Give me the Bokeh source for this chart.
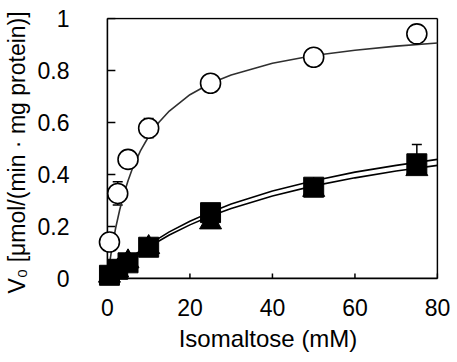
from bokeh.plotting import figure
from bokeh.models import Range1d, FixedTicker, Whisker, TeeHead, ColumnDataSource
from bokeh.embed import file_html
from bokeh.resources import INLINE

# ---- data ----
conc = [0.5, 2.5, 5, 10, 25, 50, 75]
v_circle = [0.14, 0.327, 0.458, 0.578, 0.751, 0.851, 0.941]
e_circle = [0.01, 0.045, 0.02, 0.037, 0.01, 0.01, 0.01]
v_square = [0.012, 0.035, 0.06, 0.12, 0.253, 0.351, 0.441]
e_square = [0.005, 0.01, 0.01, 0.01, 0.01, 0.01, 0.074]
v_tri = [0.01, 0.03, 0.065, 0.12, 0.215, 0.34, 0.42]
e_tri = [0.005, 0.005, 0.005, 0.01, 0.01, 0.01, 0.01]

fit_x1 = [0, 1, 2, 3, 4, 5, 6, 8, 10, 12.5, 15, 20, 25, 30, 40, 50, 60, 70, 80]
fit_circle = [0, 0.108, 0.194, 0.265, 0.325, 0.376, 0.420, 0.491, 0.546, 0.601,
              0.644, 0.707, 0.751, 0.783, 0.828, 0.858, 0.878, 0.894, 0.906]
fit_x2 = [0, 2, 5, 10, 15, 20, 25, 30, 40, 50, 60, 70, 80]
fit_square = [0, 0.030, 0.072, 0.130, 0.179, 0.220, 0.255, 0.286, 0.336, 0.376, 0.409, 0.435, 0.458]
fit_tri = [0, 0.028, 0.066, 0.121, 0.167, 0.206, 0.240, 0.269, 0.317, 0.356, 0.387, 0.413, 0.435]

x_ticks = [0, 20, 40, 60, 80]
y_ticks = [0, 0.2, 0.4, 0.6, 0.8, 1]
y_tick_labels = ["0", "0.2", "0.4", "0.6", "0.8", "1"]
x_title = "Isomaltose (mM)"
y_title = "V\u2080 [\u03bcmol/(min \u00b7 mg protein)]"

FONT = "Liberation Sans"
X0, X1 = -2.4, 80.25
Y0, Y1 = -0.035, 1.004

p = figure(width=457, height=362, x_range=Range1d(X0, X1), y_range=Range1d(Y0, Y1),
           output_backend="svg", toolbar_location=None,
           min_border_left=96, min_border_right=19, min_border_top=17, min_border_bottom=75)
p.outline_line_color = None
p.xgrid.visible = False
p.ygrid.visible = False
p.background_fill_color = "white"
p.border_fill_color = "white"

# standard axes only carry the labels; the axis lines through the origin are drawn below
for ax in (p.xaxis[0], p.yaxis[0]):
    ax.axis_line_color = None
    ax.major_tick_line_color = None
    ax.minor_tick_line_color = None
    ax.major_label_text_font = FONT
    ax.major_label_text_font_size = "23px"
    ax.major_label_text_color = "black"
    ax.axis_label_text_font = FONT
    ax.axis_label_text_font_style = "normal"
    ax.axis_label_text_color = "black"

p.xaxis.ticker = FixedTicker(ticks=x_ticks)
p.xaxis.major_label_standoff = 5
p.xaxis.axis_label = x_title
p.xaxis.axis_label_text_font_size = "24px"
p.xaxis.axis_label_standoff = 6

p.yaxis.ticker = FixedTicker(ticks=y_ticks)
p.yaxis.major_label_overrides = {t: s for t, s in zip(y_ticks, y_tick_labels)}
p.yaxis.major_label_standoff = 22
p.yaxis.axis_label = y_title
p.yaxis.axis_label_text_font_size = "23px"
p.yaxis.axis_label_standoff = 5

# frame: axes through the origin, top and right borders, inward ticks
px_per_x = 342 / (X1 - X0)
px_per_y = 270 / (Y1 - Y0)
p.segment(x0=[0, 0, 0, 80], y0=[0, 0, 1, 0], x1=[0, 80, 80, 80], y1=[1, 0, 1, 1],
          line_color="black", line_width=1.6)
p.segment(x0=[0] * len(y_ticks), y0=y_ticks, x1=[8 / px_per_x] * len(y_ticks), y1=y_ticks,
          line_color="black", line_width=1.5)
p.segment(x0=x_ticks, y0=[0] * len(x_ticks), x1=x_ticks, y1=[5 / px_per_y] * len(x_ticks),
          line_color="black", line_width=1.5)

# fitted curves
p.line(fit_x1, fit_circle, line_color="#303030", line_width=1.6)
p.line(fit_x2, fit_square, line_color="black", line_width=1.6)
p.line(fit_x2, fit_tri, line_color="black", line_width=1.6)

# error bars
def add_err(vals, errs, both=True):
    lo = [v - e for v, e in zip(vals, errs)] if both else list(vals)
    src = ColumnDataSource(dict(x=conc, lo=lo, hi=[v + e for v, e in zip(vals, errs)]))
    w = Whisker(source=src, base="x", upper="hi", lower="lo", line_color="black", line_width=1.5,
                upper_head=TeeHead(size=10, line_width=1.5, line_color="black"),
                lower_head=TeeHead(size=10, line_width=1.5, line_color="black") if both else None,
                level="underlay")
    p.add_layout(w)

add_err(v_tri, e_tri, both=False)
add_err(v_square, e_square, both=False)
add_err(v_circle, e_circle)

# markers
p.scatter(conc, v_tri, marker="triangle", size=22, fill_color="black", line_color="black")
p.scatter(conc, v_square, marker="square", size=20, fill_color="black", line_color="black")
p.scatter(conc, v_circle, marker="circle", size=20, fill_color="white", line_color="black", line_width=1.6)

open("out.html", "w").write(file_html(p, INLINE))
